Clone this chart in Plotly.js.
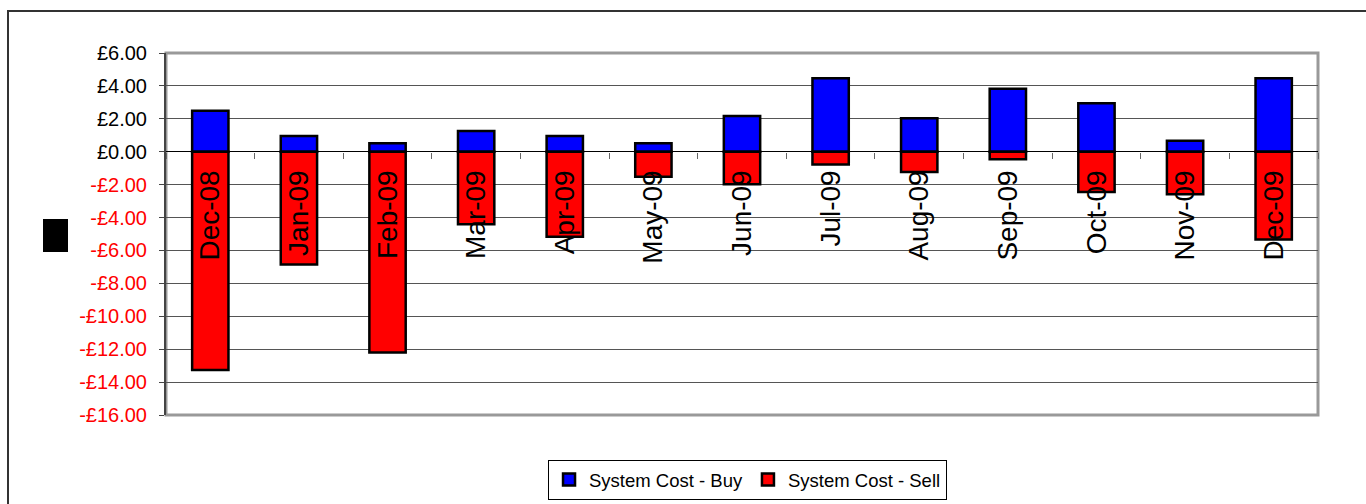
<!DOCTYPE html>
<html>
<head>
<meta charset="utf-8">
<script src="https://cdn.plot.ly/plotly-3.0.1.min.js"></script>
<style>html,body{margin:0;padding:0;background:#fff;}#chart{width:1366px;height:504px;}</style>
</head>
<body>
<div id="chart"></div>
<script>
const months = ["Dec-08","Jan-09","Feb-09","Mar-09","Apr-09","May-09","Jun-09","Jul-09","Aug-09","Sep-09","Oct-09","Nov-09","Dec-09"];
const buyCost = [2.49, 0.95, 0.51, 1.26, 0.95, 0.51, 2.17, 4.46, 2.03, 3.83, 2.94, 0.67, 4.46];
const sellCost = [-13.27, -6.85, -12.2, -4.4, -5.17, -1.52, -1.98, -0.77, -1.23, -0.46, -2.45, -2.59, -5.33];
const yTickVals = [6, 4, 2, 0, -2, -4, -6, -8, -10, -12, -14, -16];
const yTickText = yTickVals.map(v => {
  const s = "£" + Math.abs(v).toFixed(2);
  return v < 0 ? '<span style="color:#ff0000">-' + s + '</span>' : s;
});
const seriesNames = ["System Cost - Buy", "System Cost - Sell"];

const yMin = -16, yMax = 6;
const font = "Liberation Sans, Arial, sans-serif";

const traces = [
  {type: "bar", x: months, y: buyCost, name: seriesNames[0],
   marker: {color: "#0000ff", line: {color: "#000000", width: 2.5}}, hoverinfo: "x+y"},
  {type: "bar", x: months, y: sellCost, name: seriesNames[1],
   marker: {color: "#ff0000", line: {color: "#000000", width: 2.5}}, hoverinfo: "x+y"}
];

const layout = {
  width: 1366, height: 504,
  margin: {l: 166, r: 48, t: 53, b: 89, pad: 0, autoexpand: false},
  paper_bgcolor: "#ffffff", plot_bgcolor: "#ffffff",
  font: {family: font, color: "#000000"},
  barmode: "relative",
  bargap: 0.59,
  showlegend: true,
  legend: {
    orientation: "h", x: 0.5048, xanchor: "center", y: -0.124, yanchor: "top",
    bordercolor: "#000000", borderwidth: 1, bgcolor: "#ffffff",
    font: {family: font, size: 18.5, color: "#000000"},
    itemwidth: 30, tracegroupgap: 0
  },
  xaxis: {
    type: "category",
    anchor: "free", position: (0 - yMin) / (yMax - yMin),
    showline: false, showgrid: false, zeroline: false,
    ticks: "outside", tickson: "boundaries", ticklen: 6, tickcolor: "#666666", tickwidth: 1,
    tickangle: -90, ticklabelstandoff: 12,
    tickfont: {family: font, size: 28, color: "#000000"},
    fixedrange: true
  },
  yaxis: {
    range: [yMin, yMax],
    tickvals: yTickVals, ticktext: yTickText,
    showgrid: true, gridcolor: "#555555", gridwidth: 1,
    zeroline: true, zerolinecolor: "#000000", zerolinewidth: 1,
    showline: true, linecolor: "#444444", linewidth: 2,
    ticks: "outside", ticklen: 5, tickcolor: "#444444",
    ticklabelstandoff: 8,
    tickfont: {family: font, size: 20, color: "#000000"},
    fixedrange: true
  },
  shapes: [
    {type: "rect", xref: "paper", yref: "paper", x0: 0, x1: 1, y0: 0, y1: 1,
     line: {color: "#999999", width: 3}, layer: "below"},
    {type: "rect", xref: "paper", yref: "paper",
     x0: (8 - 166) / 1152, x1: (1380 - 166) / 1152,
     y0: (415 - 520) / 362, y1: (415 - 11) / 362,
     line: {color: "#333333", width: 2}, fillcolor: "rgba(0,0,0,0)"},
    {type: "rect", xref: "paper", yref: "paper",
     x0: (43 - 166) / 1152, x1: (68 - 166) / 1152,
     y0: (415 - 252) / 362, y1: (415 - 219) / 362,
     line: {width: 0}, fillcolor: "#000000"}
  ]
};

Plotly.newPlot("chart", traces, layout, {displayModeBar: false, staticPlot: true});
</script>
</body>
</html>
